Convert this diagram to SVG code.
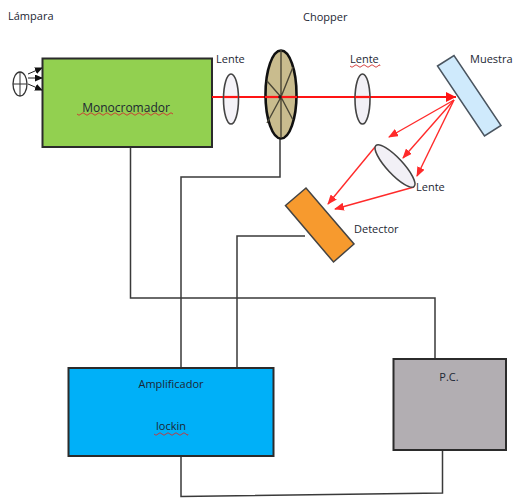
<svg xmlns="http://www.w3.org/2000/svg" width="520" height="498" viewBox="0 0 520 498">
<style>
text{font-family:"Open Sans","Liberation Sans",sans-serif;font-size:11px;fill:#1c2733}
.c{text-anchor:middle}
.box{stroke:#2b2b2b;stroke-width:2}
.lens{fill:#f2f0f6;stroke:#444;stroke-width:1.6}
.wire{fill:none;stroke:#3a3a3a;stroke-width:1.5}
.ray{fill:none;stroke:#ff2a2a;stroke-width:1.4;marker-end:url(#r)}
.squig{fill:none;stroke:#d03030;stroke-width:.9}
.spoke{stroke:#4a4636;stroke-width:1.4}
.la{stroke:#222;stroke-width:1;marker-end:url(#k)}
</style>
<defs>
<marker id="r" markerWidth="10" markerHeight="8" refX="9" refY="4" orient="auto" markerUnits="userSpaceOnUse"><path d="M0 0L10 4L0 8Z" fill="#ff2a2a"/></marker>
<marker id="k" markerWidth="8" markerHeight="7" refX="7" refY="3.5" orient="auto" markerUnits="userSpaceOnUse"><path d="M0 0L8 3.5L0 7Z" fill="#111"/></marker>
</defs>
<g id="connectors">
<path class="wire" d="M130.500 147V298H435V358"/>
<path class="wire" d="M280 138V177H181V368"/>
<path class="wire" d="M305 236H237V368"/>
<path class="wire" d="M181 456V496.500L442.500 493V450"/>
</g>
<g id="lampara">
<text x="8" y="20">Lámpara</text>
<ellipse cx="20" cy="84" rx="7" ry="12" fill="#fff" stroke="#333" stroke-width="1.300"/>
<path d="M13 84H27M20 72V96" stroke="#333" stroke-width="1"/>
<path class="la" d="M28 74L42 68"/>
<path class="la" d="M28 78L42 78"/>
<path class="la" d="M28 84L42 90"/>
</g>
<g id="monocromador">
<rect class="box" x="42.500" y="58.500" width="169.500" height="88.500" fill="#92d050"/>
<text class="c" x="126" y="112" style="font-size:12px">Monocromador</text>
<path class="squig" d="M77 114q2 2.500 4 0t4 0t4 0t4 0t4 0t4 0t4 0t4 0t4 0t4 0t4 0t4 0t4 0t4 0t4 0t4 0t4 0t4 0t4 0t4 0t4 0t4 0t4 0t4 0"/>
</g>
<g id="haz">
<path d="M212 97H456" stroke="#ff1414" stroke-width="2.200" fill="none"/>
</g>
<g id="lente1">
<text x="216" y="63">Lente</text>
<ellipse class="lens" cx="231" cy="99" rx="7.500" ry="25" fill-opacity=".8"/>
<path d="M224 97H238" stroke="#ff1414" stroke-width="2.200"/>
</g>
<g id="chopper">
<text x="303" y="21">Chopper</text>
<ellipse cx="281" cy="94.500" rx="15.500" ry="44" fill="#c9bc8e" stroke="#111" stroke-width="2.600"/>
<path class="spoke" d="M281 50V138M281 97L293 67M281 97L267 81M281 97L293 120M281 97L267 123"/>
<path d="M265 97H297" stroke="#ff1414" stroke-width="2.200"/>
<circle cx="280" cy="97" r="1.800" fill="#222"/>
</g>
<g id="lente2">
<text x="350" y="63">Lente</text>
<path class="squig" d="M350 66q2 2.500 4 0t4 0t4 0t4 0t4 0t4 0t4 0t2 0"/>
<ellipse class="lens" cx="362.500" cy="99" rx="7.500" ry="25"/>
<path d="M355 97H370" stroke="#ff1414" stroke-width="2.200"/>
</g>
<g id="muestra">
<text x="470" y="63">Muestra</text>
<path d="M437.500 66L454 55.500L501 125.500L484.500 136Z" fill="#cfeafc" stroke="#4a5560" stroke-width="1.500"/>
<path d="M446 92L456 97L446 102Z" fill="#ff1414"/>
</g>
<g id="rayos">
<path class="ray" d="M454 100L389 137"/>
<path class="ray" d="M454 100L403 158"/>
<path class="ray" d="M454 100L417 176"/>
<path class="ray" d="M375 147L328 204"/>
<path class="ray" d="M414 187L335 209"/>
</g>
<g id="lente3">
<ellipse class="lens" cx="395" cy="166" rx="28" ry="8" transform="rotate(47 395 166)"/>
<text x="416" y="191">Lente</text>
</g>
<g id="detector">
<path d="M285.500 205.500L306 188L354 244L333.500 262Z" fill="#f79a2e" stroke="#444" stroke-width="1.500"/>
<text x="354" y="233">Detector</text>
</g>
<g id="amplificador">
<rect class="box" x="68.500" y="368" width="205" height="88" fill="#00b0f8"/>
<text class="c" x="171" y="388">Amplificador</text>
<text class="c" x="171" y="430">lockin</text>
<path class="squig" d="M154 434q2 2.500 4 0t4 0t4 0t4 0t4 0t4 0t4 0t4 0t2 0"/>
</g>
<g id="pc">
<rect class="box" x="393.500" y="359" width="112.500" height="91" fill="#b2aeb2"/>
<text class="c" x="449" y="381">P.C.</text>
</g>
</svg>
